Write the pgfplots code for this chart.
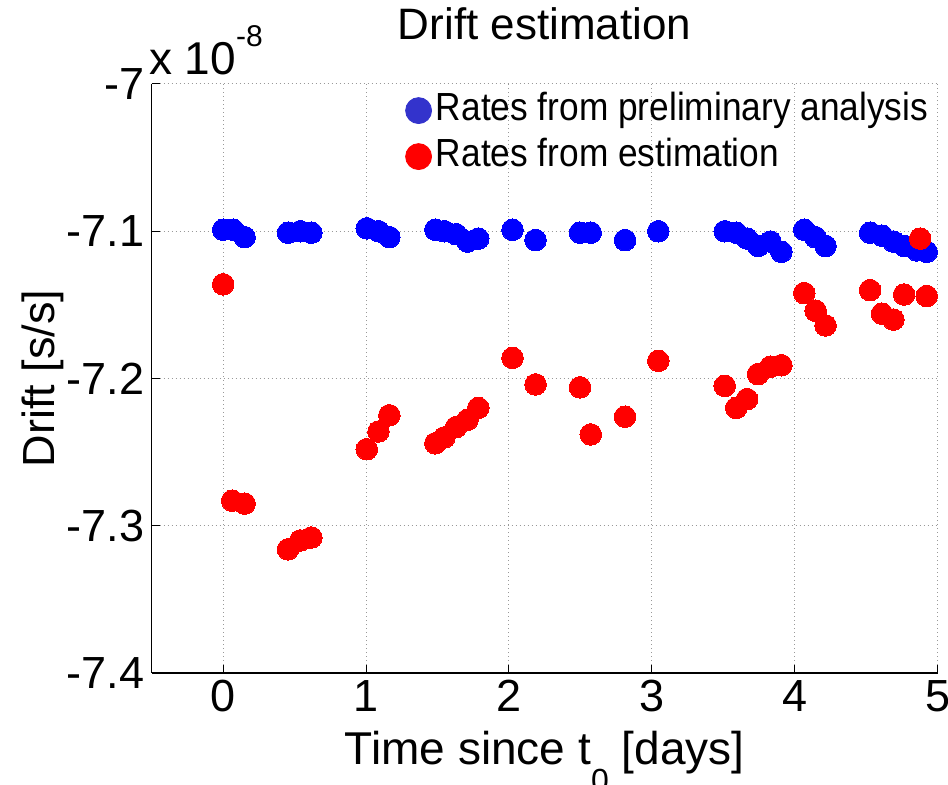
\documentclass[border=0pt]{standalone}
\usepackage{fontspec}
\setmainfont{Liberation Sans}
\newfontfamily\legfont{Liberation Sans}[FakeStretch=0.9]
\usepackage{pgfplots}
\pgfplotsset{compat=1.18}
\definecolor{legblue}{RGB}{51,51,204}

\begin{document}
\begin{tikzpicture}
\path[use as bounding box] (0pt,0pt) rectangle (474pt,392.5pt);
\begin{axis}[
  at={(75.85pt,56pt)}, anchor=south west,
  scale only axis, width=393pt, height=294.5pt,
  xmin=-0.5, xmax=5, ymin=-7.4, ymax=-7,
  clip=false,
  xtick={0,1,2,3,4,5}, ytick={-7.4,-7.3,-7.2,-7.1,-7},
  xticklabels={0,1,2,3,4,5},
  yticklabels={-7.4,-7.3,-7.2,-7.1,-7},
  axis x line*=bottom, axis y line*=left,
  axis line style={-, line width=0.7pt},
  xtick pos=left, ytick pos=left,
  tick align=inside, major tick length=4pt,
  tick style={black, line width=0.5pt},
  grid=major,
  major grid style={gray!80, line width=0.5pt, dash pattern=on 0.5pt off 1.5pt},
  xticklabel style={font=\fontsize{22.5}{22.5}\selectfont},
  yticklabel style={font=\fontsize{22.5}{22.5}\selectfont, inner xsep=3.5pt},
  every axis title/.style={at={(rel axis cs:0.5,1)}, anchor=base, yshift=22pt, font=\fontsize{22}{22}\selectfont},
  title={Drift estimation},
  every axis x label/.style={at={(rel axis cs:0.5,0)}, anchor=base, yshift=-46pt, font=\fontsize{23}{23}\selectfont},
  xlabel={Time since t\raisebox{-13.5pt}{\fontsize{16}{16}\selectfont 0} [days]},
  every axis y label/.style={at={(rel axis cs:0,0.5)}, xshift=-48.35pt, rotate=90, anchor=base, font=\fontsize{22.5}{22.5}\selectfont},
  ylabel={Drift [s/s]},
  legend image code/.code={\fill (6.5pt,0pt) circle (6.5pt);},
  legend style={draw=none, fill=none, at={(rel axis cs:0.322,0.992)}, anchor=north west,
    inner sep=0pt, row sep=1.5pt, font=\legfont\fontsize{19.6}{19.6}\selectfont,
    nodes={inner sep=2pt, text height=13.5pt, text depth=4pt}},
  legend cell align=left,
]
\addlegendimage{color=legblue}
\addlegendentry{Rates from preliminary analysis}
\addlegendimage{color=red}
\addlegendentry{Rates from estimation}

\addplot[blue, only marks, mark=*, mark size=5.4pt, mark options={draw=blue, fill=blue, line width=0pt}, forget plot] coordinates {
(0,-7.099) (0.07,-7.099) (0.15,-7.104) (0.454,-7.101) (0.54,-7.100) (0.617,-7.101)
(1.005,-7.098) (1.087,-7.100) (1.163,-7.104) (1.485,-7.099) (1.548,-7.100) (1.63,-7.102)
(1.71,-7.107) (1.785,-7.105) (2.025,-7.099) (2.186,-7.106) (2.497,-7.101) (2.572,-7.101)
(2.812,-7.106) (3.045,-7.100) (3.51,-7.100) (3.59,-7.101) (3.666,-7.105) (3.743,-7.110)
(3.83,-7.107) (3.906,-7.114) (4.066,-7.099) (4.143,-7.104) (4.215,-7.110) (4.527,-7.101)
(4.61,-7.103) (4.69,-7.107) (4.765,-7.110) (4.853,-7.113) (4.923,-7.114)
};
\addplot[red, only marks, mark=*, mark size=5.4pt, mark options={draw=red, fill=red, line width=0pt}, forget plot] coordinates {
(0,-7.136) (0.063,-7.283) (0.15,-7.285) (0.454,-7.316) (0.54,-7.310) (0.617,-7.308)
(1.005,-7.248) (1.087,-7.236) (1.163,-7.225) (1.485,-7.244) (1.548,-7.240) (1.63,-7.233)
(1.71,-7.228) (1.785,-7.220) (2.025,-7.186) (2.186,-7.204) (2.497,-7.206) (2.572,-7.238)
(2.812,-7.226) (3.045,-7.188) (3.51,-7.205) (3.59,-7.220) (3.666,-7.214) (3.743,-7.197)
(3.83,-7.192) (3.906,-7.191) (4.066,-7.142) (4.146,-7.154) (4.215,-7.164) (4.527,-7.140)
(4.61,-7.156) (4.69,-7.160) (4.765,-7.143) (4.877,-7.105) (4.923,-7.144)
};
\node[anchor=base west, inner sep=0pt, xshift=-1.5pt, font=\fontsize{23}{23}\selectfont] at (rel axis cs:0,1) [yshift=4.5pt] {x 10\raisebox{14pt}{\fontsize{15}{15}\selectfont -8}};
\end{axis}
\end{tikzpicture}
\end{document}
